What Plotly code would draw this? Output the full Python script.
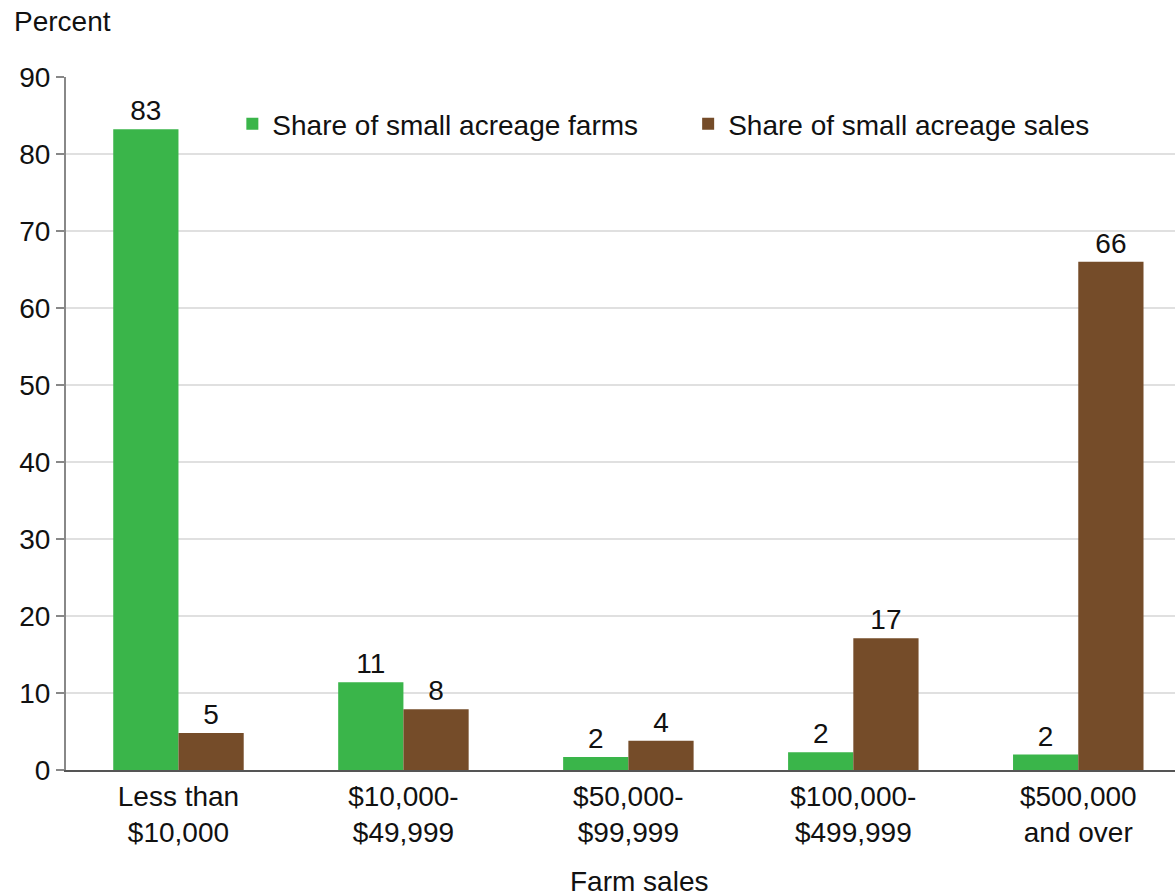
import plotly.graph_objects as go

categories = ["Less than<br>$10,000", "$10,000-<br>$49,999", "$50,000-<br>$99,999",
              "$100,000-<br>$499,999", "$500,000<br>and over"]
farms_share = [83.2, 11.4, 1.7, 2.3, 2.0]
sales_share = [4.8, 7.9, 3.8, 17.1, 66.0]
farms_labels = ["83", "11", "2", "2", "2"]
sales_labels = ["5", "8", "4", "17", "66"]
y_ticks = [0, 10, 20, 30, 40, 50, 60, 70, 80, 90]

FONT = "Liberation Sans, Arial, sans-serif"
FS = 28
GREEN = "#3AB54A"
BROWN = "#754C29"
TXT = "#111111"

fig = go.Figure()
fig.add_trace(go.Bar(x=categories, y=farms_share, name="Share of small acreage farms",
                     marker=dict(color=GREEN, line=dict(width=0)),
                     text=farms_labels, textposition="outside", cliponaxis=False,
                     textfont=dict(size=FS, color=TXT, family=FONT), legend="legend"))
fig.add_trace(go.Bar(x=categories, y=sales_share, name="Share of small acreage sales",
                     marker=dict(color=BROWN, line=dict(width=0)),
                     text=sales_labels, textposition="outside", cliponaxis=False,
                     textfont=dict(size=FS, color=TXT, family=FONT), legend="legend2"))

leg_common = dict(orientation="h", yanchor="middle", xanchor="left",
                  font=dict(size=FS, family=FONT, color=TXT),
                  bgcolor="rgba(0,0,0,0)", itemwidth=30)

fig.update_layout(
    width=1175, height=896,
    margin=dict(l=66, r=0, t=77, b=126),
    paper_bgcolor="white", plot_bgcolor="white",
    font=dict(family=FONT, size=FS, color=TXT),
    barmode="group", bargap=0.42, bargroupgap=0,
    showlegend=True,
    legend=dict(x=0.150, y=0.932, **leg_common),
    legend2=dict(x=0.561, y=0.932, **leg_common),
    xaxis=dict(range=[-0.5, 4.43], showgrid=False, showline=True, linecolor="#555",
               linewidth=2, ticks="", tickfont=dict(size=FS, family=FONT, color=TXT),
               zeroline=False, automargin=False),
    yaxis=dict(range=[0, 90], tickvals=y_ticks, showgrid=True, gridcolor="#e0e0e0",
               gridwidth=1.5, showline=True, linecolor="#888", linewidth=2,
               ticks="outside", ticklen=8, tickcolor="#888", tickwidth=1.5,
               tickfont=dict(size=FS, family=FONT, color=TXT), zeroline=False,
               automargin=False),
)
fig.add_annotation(text="Percent", xref="paper", yref="paper", x=-0.0487, y=1.0794,
                   xanchor="left", yanchor="middle", showarrow=False,
                   font=dict(size=FS, family=FONT, color=TXT))
fig.add_annotation(text="Farm sales", xref="paper", yref="paper", x=0.5167, y=-0.1616,
                   xanchor="center", yanchor="middle", showarrow=False,
                   font=dict(size=FS, family=FONT, color=TXT))

fig.write_html("out.html")
